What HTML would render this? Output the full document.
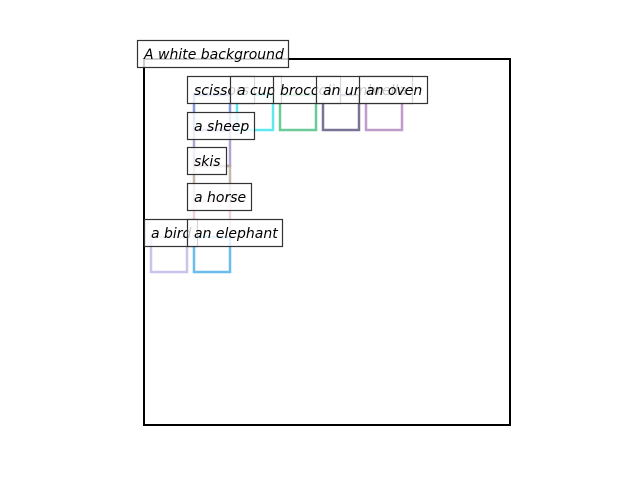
<!DOCTYPE html>
<html><head><meta charset="utf-8"><style>
html,body{margin:0;padding:0;background:#fff;}
svg{display:block}
text{font-family:"DejaVu Sans","Liberation Sans",sans-serif;font-style:italic;font-size:14px;fill:#000}
</style></head><body>
<svg width="640" height="480" viewBox="0 0 640 480" xmlns="http://www.w3.org/2000/svg">
<rect x="144" y="59" width="366" height="366" fill="none" stroke="#000" stroke-width="2"/>
<g fill="none" stroke-width="2.5">
<rect x="194" y="95" width="36" height="35" stroke="#7b8fd6" stroke-opacity="0.9"/>
<rect x="237" y="95" width="36" height="35" stroke="#5ee8f0"/>
<rect x="280" y="95" width="36" height="35" stroke="#6cca98"/>
<rect x="323" y="95" width="36" height="35" stroke="#7a7396"/>
<rect x="366" y="95" width="36" height="35" stroke="#bf9ccc"/>
<rect x="194" y="130" width="36" height="36" stroke="#a08cc8" stroke-opacity="0.8"/>
<rect x="194" y="166" width="36" height="35" stroke="#b8a898" stroke-opacity="0.8"/>
<rect x="194" y="201" width="36" height="36" stroke="#e8c8cc" stroke-opacity="0.8"/>
<rect x="151" y="237" width="36" height="35" stroke="#c8c4ec"/>
<rect x="194" y="237" width="36" height="35" stroke="#6cbcec"/>
</g>
<g stroke="#333" stroke-width="1.2" fill="#fff" fill-opacity="0.8">
<rect x="137.5" y="40.5" width="151" height="27"/>
</g>
<text x="144" y="59">A white background</text>
<g stroke="#333" stroke-width="1.2">
<rect x="187.5" y="76.5" width="67" height="27" fill="#fff" fill-opacity="0.8"/>
<text x="194" y="95" stroke="none">scissors</text>
<rect x="230.5" y="76.5" width="51" height="27" fill="#fff" fill-opacity="0.8"/>
<text x="237" y="95" stroke="none">a cup</text>
<rect x="273.5" y="76.5" width="67" height="27" fill="#fff" fill-opacity="0.8"/>
<text x="280" y="95" stroke="none">broccoli</text>
<rect x="316.5" y="76.5" width="96" height="27" fill="#fff" fill-opacity="0.8"/>
<text x="323" y="95" stroke="none">an umbrella</text>
<rect x="359.5" y="76.5" width="68" height="27" fill="#fff" fill-opacity="0.8"/>
<text x="366" y="95" stroke="none">an oven</text>
<rect x="187.5" y="112.5" width="67" height="27" fill="#fff" fill-opacity="0.8"/>
<text x="194" y="131" stroke="none">a sheep</text>
<rect x="187.5" y="147.5" width="39" height="27" fill="#fff" fill-opacity="0.8"/>
<text x="194" y="166" stroke="none">skis</text>
<rect x="187.5" y="183.5" width="64" height="27" fill="#fff" fill-opacity="0.8"/>
<text x="194" y="202" stroke="none">a horse</text>
<rect x="144.5" y="219.5" width="53" height="27" fill="#fff" fill-opacity="0.8"/>
<text x="151" y="238" stroke="none">a bird</text>
<rect x="187.5" y="219.5" width="95" height="27" fill="#fff" fill-opacity="0.8"/>
<text x="194" y="238" stroke="none">an elephant</text>
</g>
</svg>
</body></html>
